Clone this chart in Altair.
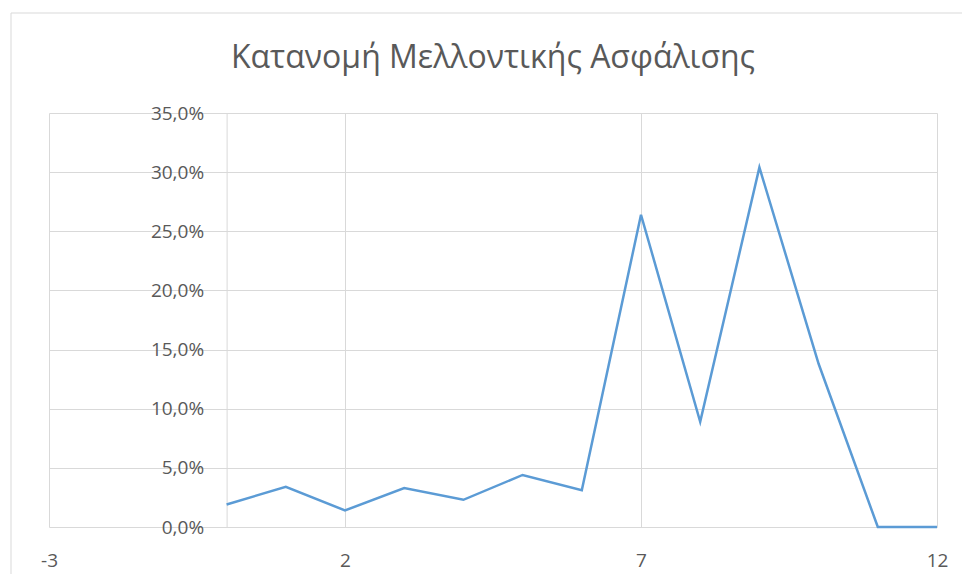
import altair as alt
import pandas as pd

# ---- data ----
x_vals = [0, 1, 2, 3, 4, 5, 6, 7, 8, 9, 10, 11, 12]
shares = [0.019, 0.034, 0.014, 0.033, 0.023, 0.044, 0.031, 0.264, 0.089, 0.304, 0.138, 0.0, 0.0]
x_ticks = [-3, 2, 7, 12]
y_ticks = [0.0, 0.05, 0.10, 0.15, 0.20, 0.25, 0.30, 0.35]
title_text = "Κατανομή Μελλοντικής Ασφάλισης"

df = pd.DataFrame({"x": x_vals, "share": shares})

W, H = 888, 414
X_MIN, X_MAX = -3, 12
Y_MIN, Y_MAX = 0.0, 0.35
# vertical axis crosses at x = 0 (as in the spreadsheet chart)
y_axis_offset = -(0 - X_MIN) / (X_MAX - X_MIN) * W

FONT = "Open Sans"
TXT = "#595959"
GRID = "#d9d9d9"
LINE = "#5b9bd5"

x_scale = alt.Scale(domain=[X_MIN, X_MAX], nice=False, zero=False)
y_scale = alt.Scale(domain=[Y_MIN, Y_MAX], nice=False)

x_axis = alt.Axis(
    values=x_ticks, grid=True, gridColor=GRID, gridWidth=1,
    domain=False, ticks=False, tickSize=0, labelFlush=False,
    labelExpr="'' + datum.value", labelFont=FONT, labelFontSize=19,
    labelColor=TXT, labelPadding=24, title=None, orient="bottom",
)

y_grid_axis = alt.Axis(
    values=y_ticks, grid=True, gridColor=GRID, gridWidth=1,
    labels=False, ticks=False, tickSize=0, domain=False, title=None, orient="left",
)

y_label_axis = alt.Axis(
    values=y_ticks, grid=False, ticks=False, tickSize=0,
    domain=True, domainColor=GRID, domainWidth=1,
    labelExpr="replace(format(datum.value, '.1%'), '.', ',')",
    labelFont=FONT, labelFontSize=19, labelColor=TXT, labelPadding=23,
    offset=y_axis_offset, title=None, orient="left",
)

grid_layer = alt.Chart(df).mark_line(strokeOpacity=0).encode(
    x=alt.X("x:Q", scale=x_scale, axis=x_axis),
    y=alt.Y("share:Q", scale=y_scale, axis=y_grid_axis),
)

line_layer = alt.Chart(df).mark_line(color=LINE, strokeWidth=2.5).encode(
    x=alt.X("x:Q", scale=x_scale, axis=x_axis),
    y=alt.Y("share:Q", scale=y_scale, axis=y_label_axis),
)

frame = alt.Chart(alt.Data(values=[{"k": 1}])).mark_rect(
    filled=False, stroke=GRID, strokeWidth=1
).encode(
    x=alt.value(-38), x2=alt.value(W + 80),
    y=alt.value(-100), y2=alt.value(H + 90),
)

chart = (
    alt.layer(frame, grid_layer, line_layer)
    .resolve_axis(y="independent")
    .properties(
        width=W, height=H,
        title=alt.TitleParams(
            title_text, font=FONT, fontSize=32, fontWeight="normal",
            color=TXT, anchor="middle", offset=-62,
        ),
        padding={"left": 41, "top": 105, "right": 25, "bottom": 47},
        autosize=alt.AutoSizeParams(type="none"),
    )
    .configure_view(stroke=None)
)

chart.save("out.html", embed_options={"renderer": "svg", "actions": False})
